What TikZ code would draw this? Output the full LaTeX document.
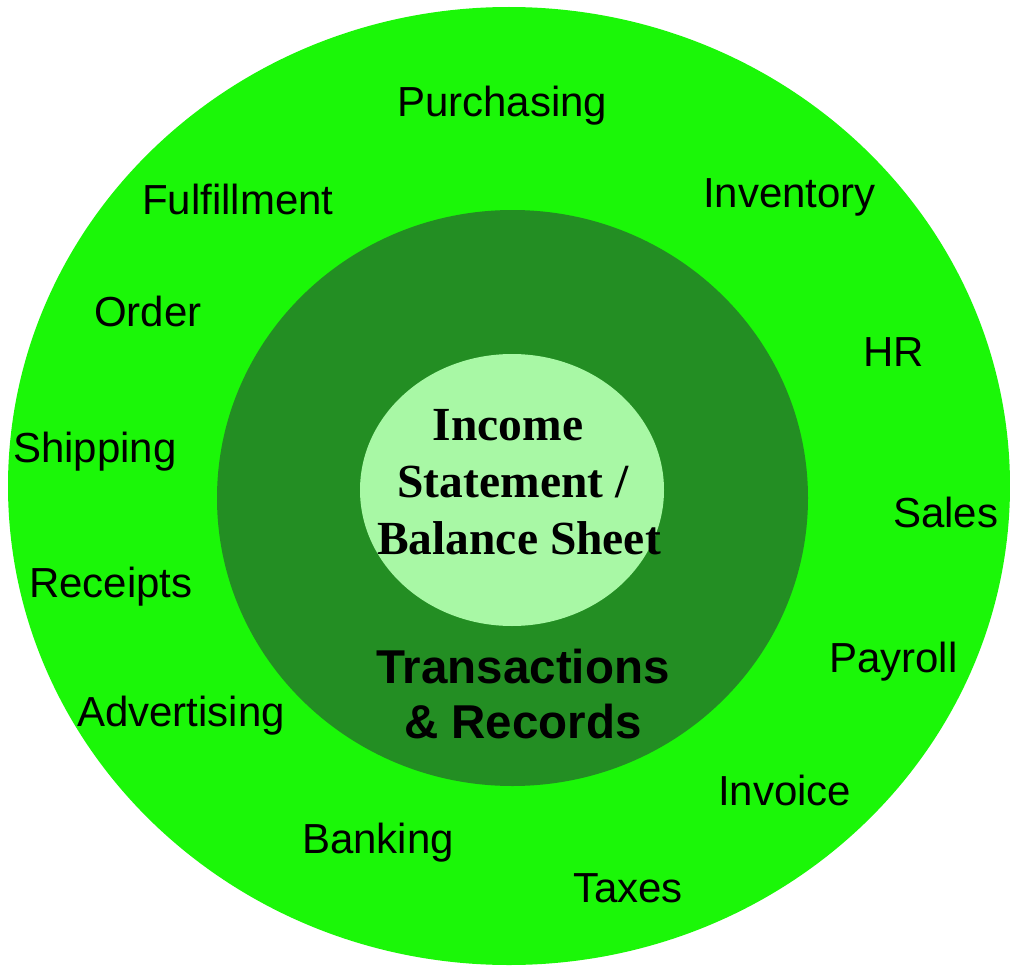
\documentclass[tikz,border=0pt]{standalone}
\usepackage{fontspec}
\setmainfont{Liberation Sans}
\newfontfamily\serifbold{Liberation Serif}
\usetikzlibrary{shapes.geometric}
\definecolor{outerg}{RGB}{27,247,8}
\definecolor{midg}{RGB}{35,142,35}
\definecolor{innerg}{RGB}{168,248,165}
\tikzset{
  ring/.style={ellipse, inner sep=0pt, draw=none},
  lbl/.style={font=\fontsize{42}{50}\selectfont, anchor=base west, inner sep=0pt},
}
\begin{document}
\begin{tikzpicture}[x=1pt,y=-1pt]
\useasboundingbox (0,0) rectangle (1010,966);
\node[ring, fill=outerg, minimum width=1002pt, minimum height=958pt] (outer) at (509,486) {};
\node[ring, fill=midg, minimum width=591pt, minimum height=576pt] (middle) at (512.5,498) {};
\node[ring, fill=innerg, minimum width=304pt, minimum height=272pt] (inner) at (512,490) {};
\node[inner sep=0pt, align=center, font=\serifbold\bfseries\fontsize{47.5}{57}\selectfont] (core) at (513,482) {Income\hspace*{10pt}\\Statement /\\\hspace*{12pt}Balance Sheet};
\node[inner sep=0pt, align=center, font=\bfseries\fontsize{47.5}{55}\selectfont] (trans) at (523,694) {Transactions\\\& Records};
\node[lbl] (purchasing) at (397,117) {Purchasing};
\node[lbl] (inventory) at (703,207) {Inventory};
\node[lbl] (fulfillment) at (142,214) {Fulfillment};
\node[lbl] (order) at (94,326) {Order};
\node[lbl] (hr) at (863,366) {HR};
\node[lbl] (shipping) at (13,462) {Shipping};
\node[lbl] (sales) at (893,527) {Sales};
\node[lbl] (receipts) at (29,597) {Receipts};
\node[lbl] (payroll) at (829,672) {Payroll};
\node[lbl] (advertising) at (77,726) {Advertising};
\node[lbl] (invoice) at (718,805) {Invoice};
\node[lbl] (banking) at (302,853) {Banking};
\node[lbl] (taxes) at (573,902) {Taxes};
\end{tikzpicture}
\end{document}
